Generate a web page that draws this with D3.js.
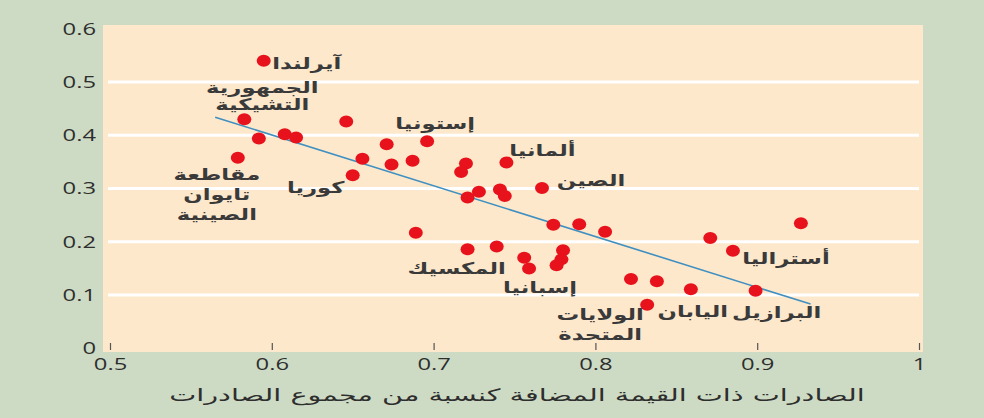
<!DOCTYPE html>
<html>
<head>
<meta charset="utf-8">
<script src="https://cdn.jsdelivr.net/npm/d3@7"></script>
<style>
  html, body { margin: 0; padding: 0; background: #cddbc4; }
  svg { display: block; }
</style>
</head>
<body>
<svg id="chart" width="984" height="418"></svg>
<script>
// ---------------- data ----------------
const exportShare = [0.595, 0.583, 0.646, 0.608, 0.615, 0.592, 0.579, 0.650, 0.671, 0.696,
                     0.656, 0.674, 0.687, 0.720, 0.717, 0.745, 0.767, 0.728, 0.721, 0.741,
                     0.744, 0.689, 0.774, 0.790, 0.806, 0.721, 0.739, 0.780, 0.779, 0.776,
                     0.756, 0.759, 0.822, 0.838, 0.859, 0.899, 0.832, 0.871, 0.885, 0.927];
const valueAdded  = [0.540, 0.430, 0.426, 0.402, 0.396, 0.394, 0.358, 0.325, 0.383, 0.389,
                     0.356, 0.345, 0.352, 0.347, 0.331, 0.349, 0.301, 0.294, 0.283, 0.298,
                     0.286, 0.217, 0.232, 0.233, 0.219, 0.186, 0.191, 0.184, 0.167, 0.156,
                     0.170, 0.150, 0.130, 0.126, 0.111, 0.108, 0.082, 0.207, 0.183, 0.235];
const countries   = ["آيرلندا", "الجمهورية التشيكية", "", "", "", "", "مقاطعة تايوان الصينية", "كوريا", "", "إستونيا",
                     "", "", "", "", "", "ألمانيا", "الصين", "", "", "",
                     "", "", "", "", "", "المكسيك", "", "", "", "",
                     "", "إسبانيا", "", "", "اليابان", "البرازيل", "الولايات المتحدة", "", "أستراليا", ""];
const trendX = [0.565, 0.933];
const trendY = [0.434, 0.083];
const xTicks = [0.5, 0.6, 0.7, 0.8, 0.9, 1];
const xTickLabels = ["0.5", "0.6", "0.7", "0.8", "0.9", "1"];
const yTicks = [0, 0.1, 0.2, 0.3, 0.4, 0.5, 0.6];
const yTickLabels = ["0", "0.1", "0.2", "0.3", "0.4", "0.5", "0.6"];
const xTitle = "الصادرات ذات القيمة المضافة كنسبة من مجموع الصادرات";

// ---------------- label layout (pixel offsets from the point) ----------------
const labelLayout = {
  "آيرلندا":               { lines: ["آيرلندا"], dx: 43, dy: 3, lh: 20 },
  "الجمهورية التشيكية":    { lines: ["الجمهورية", "التشيكية"], dx: 18, dy: -32, lh: 17 },
  "مقاطعة تايوان الصينية": { lines: ["مقاطعة", "تايوان", "الصينية"], dx: -21, dy: 17, lh: 20 },
  "كوريا":                 { lines: ["كوريا"], dx: -37, dy: 12, lh: 20 },
  "إستونيا":               { lines: ["إستونيا"], dx: 8, dy: -18, lh: 20 },
  "ألمانيا":               { lines: ["ألمانيا"], dx: 36, dy: -12, lh: 20 },
  "الصين":                 { lines: ["الصين"], dx: 49, dy: -8, lh: 20 },
  "المكسيك":               { lines: ["المكسيك"], dx: -11, dy: 19, lh: 20 },
  "إسبانيا":               { lines: ["إسبانيا"], dx: 11, dy: 19, lh: 20 },
  "اليابان":               { lines: ["اليابان"], dx: 2, dy: 22, lh: 20 },
  "البرازيل":              { lines: ["البرازيل"], dx: 21, dy: 22, lh: 20 },
  "الولايات المتحدة":      { lines: ["الولايات", "المتحدة"], dx: -47, dy: 10, lh: 20 },
  "أستراليا":              { lines: ["أستراليا"], dx: 53, dy: 8, lh: 20 }
};

// ---------------- drawing ----------------
const SX_NUM = 1.4, SX_AR = 1.42, SX_TITLE = 1.69;
const arabicFont = "'DejaVu Sans', sans-serif";
const numFont = "'Open Sans', 'Noto Sans', sans-serif";
const textColor = "#2e2e2e";

const svg = d3.select("#chart");
svg.append("rect").attr("width", 984).attr("height", 418).attr("fill", "#cddbc4");
svg.append("rect").attr("x", 103).attr("y", 25).attr("width", 820).attr("height", 327).attr("fill", "#fde8cc");

const x = d3.scaleLinear().domain([0.5, 1]).range([110, 919]);
const y = d3.scaleLinear().domain([0, 0.6]).range([348.3, 28.8]);

// gridlines
svg.append("g").selectAll("line")
  .data(yTicks.filter(v => v > 0 && v < 0.6))
  .join("line")
  .attr("x1", 108).attr("x2", 919)
  .attr("y1", d => y(d)).attr("y2", d => y(d))
  .attr("stroke", "#ffffff").attr("stroke-width", 3);

// x axis
const xAxis = d3.axisBottom(x).tickValues(xTicks)
  .tickFormat((d, i) => xTickLabels[i]).tickSizeInner(-7).tickSizeOuter(0).tickPadding(8);
const gx = svg.append("g").attr("transform", "translate(0,350)").call(xAxis);
gx.select(".domain").remove();
gx.selectAll(".tick line").attr("stroke", "#555").attr("stroke-width", 1.2);
gx.selectAll(".tick text").attr("fill", textColor).attr("font-family", numFont)
  .attr("font-size", 17).attr("font-weight", 500).attr("transform", `scale(${SX_NUM},1)`);

// y axis
const yAxis = d3.axisLeft(y).tickValues(yTicks)
  .tickFormat((d, i) => yTickLabels[i]).tickSize(0).tickPadding(0);
const gy = svg.append("g").attr("transform", "translate(96,0)").call(yAxis);
gy.select(".domain").remove();
gy.selectAll(".tick text").attr("fill", textColor).attr("font-family", numFont)
  .attr("font-size", 17).attr("font-weight", 500).attr("transform", `scale(${SX_NUM},1)`);

// trend line
svg.append("path")
  .datum(trendX.map((v, i) => [v, trendY[i]]))
  .attr("d", d3.line().x(d => x(d[0])).y(d => y(d[1])))
  .attr("fill", "none").attr("stroke", "#3f8fc0").attr("stroke-width", 1.6);

// points
const pts = exportShare.map((v, i) => ({ x: v, y: valueAdded[i], name: countries[i] }));
svg.append("g").selectAll("ellipse")
  .data(pts).join("ellipse")
  .attr("cx", d => x(d.x)).attr("cy", d => y(d.y))
  .attr("rx", 7).attr("ry", 6)
  .attr("fill", "#e8121c");

// labels
const lg = svg.append("g");
pts.filter(d => d.name).forEach(d => {
  const L = labelLayout[d.name];
  L.lines.forEach((line, k) => {
    lg.append("text")
      .attr("transform", `translate(${x(d.x) + L.dx},${y(d.y) + L.dy + k * L.lh}) scale(${SX_AR},1)`)
      .attr("text-anchor", "middle")
      .attr("dy", "0.35em")
      .attr("direction", "rtl")
      .attr("font-family", arabicFont)
      .attr("font-size", 16)
      .attr("font-weight", "bold")
      .attr("fill", "#3a3a3a")
      .text(line);
  });
});

// x title
svg.append("text")
  .attr("transform", `translate(517,395) scale(${SX_TITLE},1)`)
  .attr("text-anchor", "middle").attr("dy", "0.35em")
  .attr("direction", "rtl")
  .attr("font-family", arabicFont).attr("font-size", 17)
  .attr("fill", textColor)
  .text(xTitle);
</script>
</body>
</html>
